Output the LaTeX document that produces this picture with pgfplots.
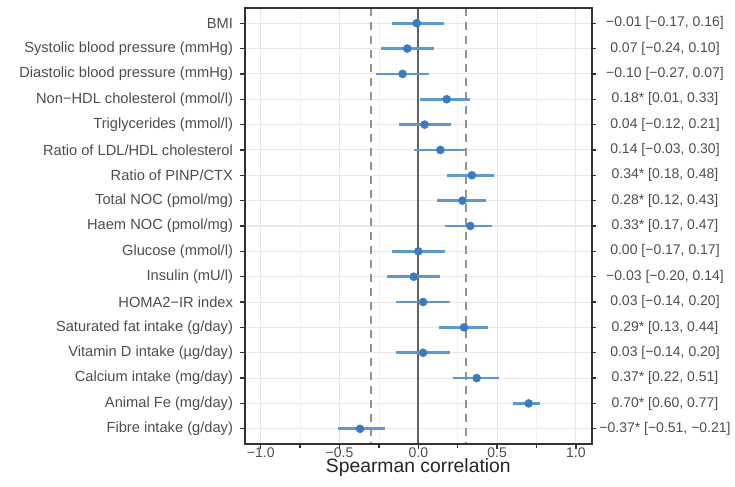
\documentclass[border=0pt]{standalone}
\usepackage{fontspec}
\setmainfont{Liberation Sans}
\usepackage{pgfplots}
\pgfplotsset{compat=1.18}
\definecolor{ptblue}{HTML}{3A7BBE}
\definecolor{ciblue}{HTML}{5F98CF}
\definecolor{txt}{HTML}{4D4D4D}
\definecolor{boxcol}{HTML}{333333}
\tikzset{rl/.style={anchor=center, xshift=55pt, font=\fontsize{10.5}{12}\selectfont, text=txt, inner sep=0pt}}

\begin{document}
\begin{tikzpicture}
\begin{axis}[
  name=ax,
  clip=false,
  scale only axis,
  width=260pt, height=327pt,
  xmin=-1.1, xmax=1.1,
  ymin=0.4, ymax=17.6,
  y dir=reverse,
  ytick={1,...,17},
  tick align=outside,
  major tick length=3.5pt,
  tick style={boxcol, line width=1pt},
  axis line style={boxcol, line width=1.3pt},
  xtick={-1,-0.5,0,0.5,1},
  xticklabels={−1.0,−0.5,0.0,0.5,1.0},
  minor xtick={-0.75,-0.25,0.25,0.75},
  ytick pos=both,
  xtick pos=left,
  xticklabel style={font=\fontsize{10.5}{12}\selectfont, color=txt, yshift=4.5pt},
  yticklabel style={font=\fontsize{11}{13}\selectfont, color=txt, xshift=-2pt},
  yticklabels={BMI,Systolic blood pressure (mmHg),Diastolic blood pressure (mmHg),Non−HDL cholesterol (mmol/l),Triglycerides (mmol/l),Ratio of LDL/HDL cholesterol,Ratio of PINP/CTX,Total NOC (pmol/mg),Haem NOC (pmol/mg),Glucose (mmol/l),Insulin (mU/l),HOMA2−IR index,Saturated fat intake (g/day),Vitamin D intake (µg/day),Calcium intake (mg/day),Animal Fe (mg/day),Fibre intake (g/day)},
  grid=both,
  major grid style={draw=black!9, line width=0.8pt},
  minor grid style={draw=black!5, line width=0.5pt},
  xlabel={Spearman correlation},
  xlabel style={font=\fontsize{14.5}{16}\selectfont, color=black!85, yshift=6pt},
]
\addplot[black!42, line width=1.5pt, dash pattern=on 6pt off 4.5pt] coordinates {(-0.3,0.4) (-0.3,17.6)};
\addplot[black!42, line width=1.5pt, dash pattern=on 6pt off 4.5pt] coordinates {(0.3,0.4) (0.3,17.6)};
\addplot[black!62, line width=1.3pt] coordinates {(0,0.4) (0,17.6)};
\addplot[
  only marks, mark=*, mark size=3pt,
  mark options={fill=ptblue, draw=ptblue},
  error bars/.cd,
  x dir=both, x explicit,
  error bar style={ciblue, line width=2pt},
  error mark=none,
] coordinates {
  (-0.01,1)  -= (0.16,0) += (0.17,0)
  (-0.07,2)  -= (0.17,0) += (0.17,0)
  (-0.10,3)  -= (0.17,0) += (0.17,0)
  (0.18,4)   -= (0.17,0) += (0.15,0)
  (0.04,5)   -= (0.16,0) += (0.17,0)
  (0.14,6)   -= (0.17,0) += (0.16,0)
  (0.34,7)   -= (0.16,0) += (0.14,0)
  (0.28,8)   -= (0.16,0) += (0.15,0)
  (0.33,9)   -= (0.16,0) += (0.14,0)
  (0.00,10)  -= (0.17,0) += (0.17,0)
  (-0.03,11) -= (0.17,0) += (0.17,0)
  (0.03,12)  -= (0.17,0) += (0.17,0)
  (0.29,13)  -= (0.16,0) += (0.15,0)
  (0.03,14)  -= (0.17,0) += (0.17,0)
  (0.37,15)  -= (0.15,0) += (0.14,0)
  (0.70,16)  -= (0.10,0) += (0.07,0)
  (-0.37,17) -= (0.14,0) += (0.16,0)
};
% estimates and intervals, right of the panel
\node[rl] at (axis cs:1.1,1)  {−0.01 [−0.17, 0.16]};
\node[rl] at (axis cs:1.1,2)  {0.07 [−0.24, 0.10]};
\node[rl] at (axis cs:1.1,3)  {−0.10 [−0.27, 0.07]};
\node[rl] at (axis cs:1.1,4)  {0.18* [0.01, 0.33]};
\node[rl] at (axis cs:1.1,5)  {0.04 [−0.12, 0.21]};
\node[rl] at (axis cs:1.1,6)  {0.14 [−0.03, 0.30]};
\node[rl] at (axis cs:1.1,7)  {0.34* [0.18, 0.48]};
\node[rl] at (axis cs:1.1,8)  {0.28* [0.12, 0.43]};
\node[rl] at (axis cs:1.1,9)  {0.33* [0.17, 0.47]};
\node[rl] at (axis cs:1.1,10) {0.00 [−0.17, 0.17]};
\node[rl] at (axis cs:1.1,11) {−0.03 [−0.20, 0.14]};
\node[rl] at (axis cs:1.1,12) {0.03 [−0.14, 0.20]};
\node[rl] at (axis cs:1.1,13) {0.29* [0.13, 0.44]};
\node[rl] at (axis cs:1.1,14) {0.03 [−0.14, 0.20]};
\node[rl] at (axis cs:1.1,15) {0.37* [0.22, 0.51]};
\node[rl] at (axis cs:1.1,16) {0.70* [0.60, 0.77]};
\node[rl] at (axis cs:1.1,17) {−0.37* [−0.51, −0.21]};
\end{axis}
\draw[boxcol, line width=1.3pt] (ax.south west) rectangle (ax.north east);
\path ([shift={(-183.75pt,-31.5pt)}]ax.south west) rectangle +(551.25pt,364.5pt);
\end{tikzpicture}
\end{document}
